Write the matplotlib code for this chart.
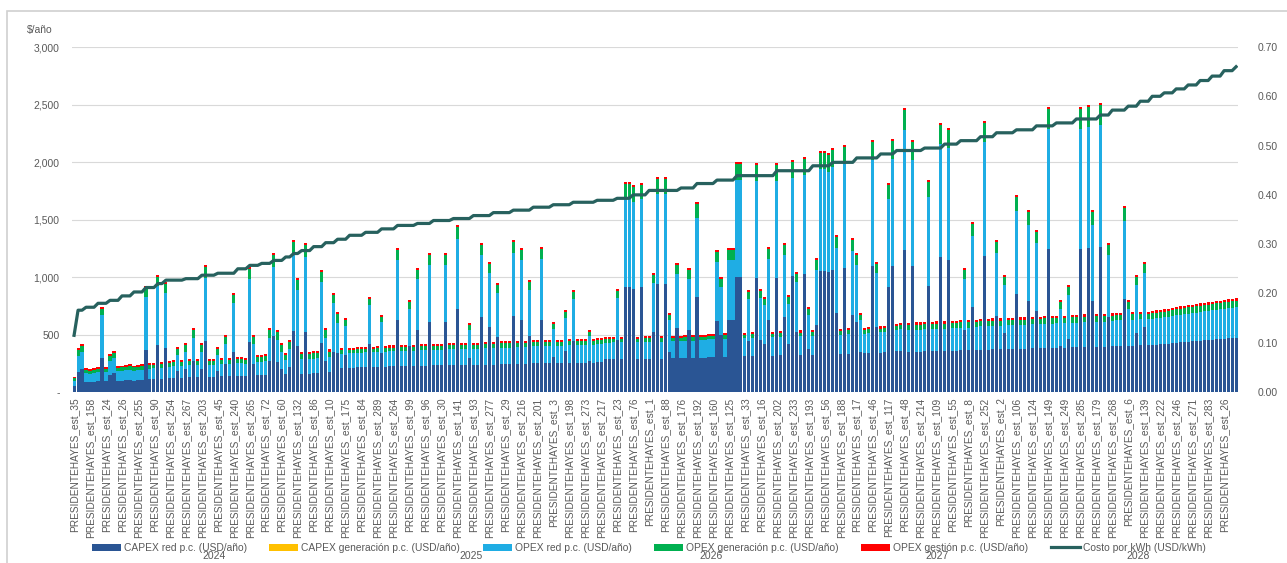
import numpy as np
import matplotlib.pyplot as plt
from matplotlib.patches import Rectangle, Patch
from matplotlib.lines import Line2D
from matplotlib import transforms

plt.rcParams['font.family'] = ['Liberation Sans', 'DejaVu Sans']

# =====================
# Datos
# =====================

capex_red = [
    55, 175, 200, 90, 85, 90, 92, 296, 92, 150, 165, 97, 100, 102, 105, 100, 102, 105, 368, 110,
    112, 408, 115, 384, 120, 122, 180, 125, 202, 128, 270, 130, 202, 442, 130, 128, 180, 135, 240, 135,
    344, 138, 138, 135, 436, 240, 145, 145, 150, 270, 484, 260, 202, 155, 215, 528, 396, 160, 520, 160,
    163, 165, 424, 270, 170, 344, 340,
    209, 320, 212, 212, 215, 215, 217, 415, 217, 220, 335, 220, 223, 223, 625, 226, 226, 400, 226, 540,
    228, 228, 605, 231, 231, 231, 605, 234, 234, 725, 234, 237, 300, 237, 237, 650, 239, 565, 239, 475,
    242, 242, 242, 660, 245, 625, 245, 488, 248, 248, 630, 248, 250, 305, 250, 250, 355, 253, 445, 253,
    253, 256, 270, 256, 259, 259,
    285, 285, 288, 450, 288, 915, 915, 900, 288, 910, 291, 291, 518, 935, 291, 935, 345, 294, 560, 294,
    297, 540, 297, 825, 300, 300, 303, 303, 618, 500, 306, 625, 625, 1000, 1000, 309, 445, 312, 995, 450,
    415, 630, 315, 995, 318, 650, 420, 1010, 523, 321, 1023, 370, 324, 583, 1050, 1050, 1040, 1060, 683, 330,
    1075, 333, 670, 605, 345, 336, 339, 1095, 565, 342, 345, 910, 1100, 354, 360,
    1235, 348, 1095, 351, 351, 354, 920, 354, 357, 1170, 357, 1150, 360, 360, 363, 540, 363, 740, 365, 368,
    1180, 368, 371, 660, 371, 510, 374, 374, 855, 377, 377, 790, 380, 705, 380, 383, 1240, 383, 386, 400,
    386, 465, 389, 389, 1240, 392, 1250, 790, 394, 1258, 394, 650, 397, 400, 400, 810, 400, 403, 510, 406,
    565, 406, 409, 412, 415, 418, 421, 423, 429, 432, 435, 438, 441, 444, 447, 450, 452, 455, 458, 461,
    464, 467, 470, 473,
]

capex_gen = [
    0, 0, 0, 0, 0, 0, 0, 0, 0, 0, 0, 0, 0, 0, 0, 0, 0, 0, 0, 0,
    0, 0, 0, 0, 0, 0, 0, 0, 0, 0, 0, 0, 0, 0, 0, 0, 0, 0, 0, 0,
    0, 0, 0, 0, 0, 0, 0, 0, 0, 0, 0, 0, 0, 0, 0, 0, 0, 0, 0, 0,
    0, 0, 0, 0, 0, 0, 0,
    0, 0, 0, 0, 0, 0, 0, 0, 0, 0, 0, 0, 0, 0, 0, 0, 0, 0, 0, 0,
    0, 0, 0, 0, 0, 0, 0, 0, 0, 0, 0, 0, 0, 0, 0, 0, 0, 0, 0, 0,
    0, 0, 0, 0, 0, 0, 0, 0, 0, 0, 0, 0, 0, 0, 0, 0, 0, 0, 0, 0,
    0, 0, 0, 0, 0, 0,
    0, 0, 0, 0, 0, 0, 0, 0, 0, 0, 0, 0, 0, 0, 0, 0, 0, 0, 0, 0,
    0, 0, 0, 0, 0, 0, 0, 0, 0, 0, 0, 0, 0, 0, 0, 0, 0, 0, 0, 0,
    0, 0, 0, 0, 0, 0, 0, 0, 0, 0, 0, 0, 0, 0, 0, 0, 0, 0, 0, 0,
    0, 0, 0, 0, 0, 0, 0, 0, 0, 0, 0, 0, 0, 0, 0,
    0, 0, 0, 0, 0, 0, 0, 0, 0, 0, 0, 0, 0, 0, 0, 0, 0, 0, 0, 0,
    0, 0, 0, 0, 0, 0, 0, 0, 0, 0, 0, 0, 0, 0, 0, 0, 0, 0, 0, 0,
    0, 0, 0, 0, 0, 0, 0, 0, 0, 0, 0, 0, 0, 0, 0, 0, 0, 0, 0, 0,
    0, 0, 0, 0, 0, 0, 0, 0, 0, 0, 0, 0, 0, 0, 0, 0, 0, 0, 0, 0,
    0, 0, 0, 0,
]

opex_red = [
    45, 135, 145, 78, 75, 78, 80, 370, 80, 118, 128, 83, 85, 87, 88, 85, 87, 88, 460, 92,
    94, 510, 95, 480, 98, 100, 138, 102, 148, 103, 203, 105, 148, 552, 105, 103, 138, 108, 180, 108,
    430, 110, 110, 108, 545, 180, 115, 115, 118, 203, 605, 195, 148, 122, 157, 660, 495, 125, 650, 125,
    126, 128, 530, 203, 132, 430, 260,
    123, 257, 124, 124, 126, 126, 128, 339, 128, 130, 270, 130, 132, 132, 519, 133, 133, 326, 133, 446,
    136, 136, 502, 137, 137, 137, 502, 139, 139, 605, 139, 141, 240, 141, 141, 541, 143, 468, 143, 390,
    145, 145, 145, 550, 146, 519, 146, 401, 148, 148, 524, 148, 151, 244, 151, 151, 287, 152, 365, 152,
    152, 154, 214, 154, 155, 155,
    143, 143, 145, 369, 145, 769, 769, 756, 145, 765, 147, 147, 427, 786, 147, 786, 279, 149, 464, 149,
    150, 446, 150, 691, 152, 152, 154, 154, 513, 412, 155, 519, 519, 842, 842, 157, 365, 159, 838, 369,
    339, 524, 160, 838, 162, 541, 343, 851, 431, 164, 861, 300, 166, 482, 885, 885, 876, 894, 568, 169,
    906, 171, 558, 502, 279, 172, 174, 924, 468, 176, 177, 765, 928, 183, 186,
    1044, 190, 924, 192, 192, 193, 773, 193, 195, 988, 195, 971, 197, 197, 198, 446, 198, 618, 201, 203,
    997, 203, 204, 550, 204, 421, 206, 206, 717, 207, 207, 661, 209, 588, 209, 211, 1048, 211, 212, 326,
    212, 382, 214, 214, 1048, 216, 1057, 661, 218, 1063, 218, 541, 220, 222, 222, 679, 326, 223, 421, 225,
    468, 225, 227, 228, 230, 232, 233, 236, 239, 241, 242, 244, 246, 247, 249, 251, 253, 255, 257, 258,
    260, 262, 263, 265,
]

opex_gen = [
    18, 52, 57, 27, 25, 27, 28, 56, 28, 44, 49, 29, 29, 30, 31, 29, 30, 31, 74, 32,
    33, 84, 34, 78, 35, 36, 54, 36, 57, 37, 69, 38, 57, 93, 38, 37, 54, 39, 62, 39,
    68, 39, 39, 39, 91, 62, 42, 42, 44, 69, 103, 67, 57, 45, 60, 114, 81, 47, 112, 47,
    48, 49, 88, 69, 50, 68, 82,
    30, 45, 31, 31, 31, 31, 32, 58, 32, 32, 47, 32, 32, 32, 88, 33, 33, 56, 33, 76,
    33, 33, 85, 34, 34, 34, 85, 34, 34, 102, 34, 34, 42, 34, 34, 91, 35, 79, 35, 67,
    35, 35, 35, 92, 36, 88, 36, 68, 36, 36, 88, 36, 36, 43, 36, 36, 50, 37, 62, 37,
    37, 37, 38, 37, 38, 38,
    29, 29, 29, 63, 29, 128, 128, 126, 29, 127, 29, 29, 72, 131, 29, 131, 48, 29, 78, 29,
    30, 76, 30, 116, 30, 30, 30, 30, 86, 70, 31, 88, 88, 140, 140, 31, 62, 31, 139, 63,
    58, 88, 32, 139, 32, 91, 59, 141, 73, 32, 143, 52, 32, 82, 147, 147, 146, 148, 96, 33,
    151, 33, 94, 85, 48, 34, 34, 153, 79, 34, 35, 127, 154, 35, 36,
    173, 42, 153, 42, 42, 43, 129, 43, 43, 164, 43, 161, 43, 43, 44, 76, 44, 104, 44, 44,
    165, 44, 45, 92, 45, 71, 45, 45, 120, 46, 46, 111, 46, 99, 46, 46, 174, 46, 47, 56,
    47, 65, 47, 47, 174, 47, 175, 111, 48, 176, 48, 91, 48, 48, 48, 113, 56, 49, 71, 49,
    79, 49, 49, 50, 50, 50, 51, 51, 52, 52, 53, 53, 53, 54, 54, 54, 55, 55, 55, 56,
    56, 56, 57, 57,
]

opex_otro = [
    12, 18, 18, 15, 15, 15, 15, 18, 15, 18, 18, 16, 16, 16, 16, 16, 16, 16, 18, 16,
    16, 18, 16, 18, 17, 17, 18, 17, 18, 17, 18, 17, 18, 18, 17, 17, 18, 18, 18, 18,
    18, 18, 18, 18, 18, 18, 18, 18, 18, 18, 18, 18, 18, 18, 18, 18, 18, 18, 18, 18,
    18, 18, 18, 18, 18, 18, 18,
    18, 18, 18, 18, 18, 18, 18, 18, 18, 18, 18, 18, 18, 18, 18, 18, 18, 18, 18, 18,
    18, 18, 18, 18, 18, 18, 18, 18, 18, 18, 18, 18, 18, 18, 18, 18, 18, 18, 18, 18,
    18, 18, 18, 18, 18, 18, 18, 18, 18, 18, 18, 18, 18, 18, 18, 18, 18, 18, 18, 18,
    18, 18, 18, 18, 18, 18,
    18, 18, 18, 18, 18, 18, 18, 18, 18, 18, 18, 18, 18, 18, 18, 18, 18, 18, 18, 18,
    18, 18, 18, 18, 18, 18, 18, 18, 18, 18, 18, 18, 18, 18, 18, 18, 18, 18, 18, 18,
    18, 18, 18, 18, 18, 18, 18, 18, 18, 18, 18, 18, 18, 18, 18, 18, 18, 18, 18, 18,
    18, 18, 18, 18, 18, 18, 18, 18, 18, 18, 18, 18, 18, 18, 18,
    18, 20, 18, 20, 20, 20, 18, 20, 20, 18, 20, 18, 20, 20, 20, 18, 20, 18, 20, 20,
    18, 20, 20, 18, 20, 18, 20, 20, 18, 20, 20, 18, 20, 18, 20, 20, 18, 20, 20, 18,
    20, 18, 20, 20, 18, 20, 18, 18, 20, 18, 20, 18, 20, 20, 20, 18, 18, 20, 18, 20,
    18, 20, 20, 20, 20, 20, 20, 20, 20, 20, 20, 20, 20, 20, 20, 20, 20, 20, 20, 20,
    20, 20, 20, 20,
]

costo_kwh = [
    0.115, 0.166, 0.166, 0.172, 0.172, 0.172, 0.180, 0.180, 0.180, 0.186, 0.186, 0.186,
    0.195, 0.195, 0.195, 0.203, 0.203, 0.203, 0.212, 0.212, 0.212, 0.220, 0.220,
    0.227, 0.227, 0.227, 0.227, 0.227, 0.230, 0.230, 0.230, 0.230, 0.237, 0.237, 0.237, 0.237,
    0.241, 0.241, 0.241, 0.241, 0.241, 0.250, 0.250, 0.250, 0.257, 0.257, 0.257,
    0.261, 0.261, 0.261, 0.267, 0.267, 0.267, 0.274, 0.274, 0.281, 0.281,
    0.287, 0.287, 0.287, 0.295, 0.295, 0.295, 0.303, 0.303, 0.303, 0.310, 0.310, 0.310,
    0.318, 0.318, 0.318, 0.318, 0.324, 0.324, 0.324, 0.324, 0.331, 0.331, 0.331, 0.331,
    0.338, 0.338, 0.338, 0.338, 0.338, 0.342, 0.342, 0.342, 0.342,
    0.348, 0.348, 0.348, 0.348, 0.348, 0.352, 0.352, 0.352, 0.352, 0.352,
    0.358, 0.358, 0.358, 0.358, 0.358, 0.364, 0.364, 0.364, 0.364, 0.364,
    0.369, 0.369, 0.369, 0.369, 0.369, 0.375, 0.375, 0.375, 0.375, 0.375,
    0.380, 0.380, 0.380, 0.380, 0.380, 0.385, 0.385, 0.385, 0.385, 0.385, 0.385,
    0.389, 0.389, 0.389, 0.389, 0.389, 0.393, 0.393, 0.393, 0.393, 0.400, 0.400, 0.400, 0.400,
    0.409, 0.409, 0.409, 0.409, 0.409, 0.409, 0.409, 0.409, 0.414, 0.414, 0.414, 0.414,
    0.423, 0.423, 0.423, 0.423, 0.423, 0.430, 0.430, 0.430, 0.430, 0.430,
    0.439, 0.439, 0.439, 0.439, 0.439, 0.439, 0.439, 0.439, 0.439, 0.439,
    0.449, 0.449, 0.449, 0.449, 0.449, 0.449, 0.449, 0.449, 0.449,
    0.459, 0.459, 0.459, 0.459, 0.459, 0.466, 0.466, 0.466, 0.466, 0.466, 0.466,
    0.475, 0.475, 0.475, 0.475, 0.475, 0.475, 0.483, 0.483, 0.483, 0.483,
    0.490, 0.490, 0.490, 0.490, 0.490, 0.490, 0.490, 0.495, 0.495, 0.495, 0.495, 0.495,
    0.503, 0.503, 0.503, 0.503, 0.510, 0.510, 0.510, 0.510, 0.510, 0.518, 0.518, 0.518, 0.518,
    0.526, 0.526, 0.526, 0.526, 0.526, 0.532, 0.532, 0.532, 0.532, 0.532,
    0.540, 0.540, 0.540, 0.540, 0.540, 0.546, 0.546, 0.546, 0.546, 0.546,
    0.554, 0.554, 0.554, 0.554, 0.554, 0.554, 0.562, 0.562, 0.562, 0.572, 0.572, 0.572, 0.572,
    0.580, 0.580, 0.580, 0.590, 0.590, 0.590, 0.600, 0.600, 0.600, 0.607, 0.607, 0.607,
    0.615, 0.615, 0.615, 0.623, 0.623, 0.623, 0.632, 0.632, 0.632, 0.641, 0.641, 0.641,
    0.652, 0.652, 0.652, 0.660,
]

# Estaciones mostradas en el eje (una de cada cuatro barras)
etiquetas_est = [
    35, 158, 24, 26, 255, 90, 254, 267, 203, 45,
    240, 265, 72, 60, 132, 86, 10, 175, 84, 289,
    264, 99, 96, 30, 141, 93, 277, 29, 216, 201,
    3, 198, 273, 217, 23, 76, 1, 88, 176, 192,
    160, 125, 33, 16, 202, 233, 193, 56, 188, 17,
    46, 117, 48, 214, 109, 55, 8, 252, 2, 106,
    124, 149, 249, 285, 179, 268, 6, 139, 222, 246,
    271, 283, 26,
]

# Años (grupos de barras: primera y última barra)
anios = ['2024', '2025', '2026', '2027', '2028']
anio_inicio = [0, 71, 129, 191, 242]
anio_fin = [70, 128, 190, 241, 291]

nombres_series = [
    'CAPEX red p.c. (USD/año)',
    'CAPEX generación p.c. (USD/año)',
    'OPEX red p.c. (USD/año)',
    'OPEX generación p.c. (USD/año)',
    'OPEX gestión p.c. (USD/año)',
]
nombre_linea = 'Costo por kWh (USD/kWh)'
colores = ['#2A5594', '#FFC000', '#1FADE4', '#00B050', '#FF0000']
color_linea = '#27615E'
gris = '#595959'

# =====================
# Figura
# =====================
series = [capex_red, capex_gen, opex_red, opex_gen, opex_otro]
n_barras = len(capex_red)
x = np.arange(n_barras)

fig = plt.figure(figsize=(12.87, 5.63), dpi=100)
ax = fig.add_axes([0.056, 0.3037, 0.906, 0.6128])

base = np.zeros(n_barras)
for vals, col in zip(series, colores):
    vals = np.array(vals, dtype=float)
    ax.bar(x, vals, bottom=base, width=0.78, color=col, linewidth=0)
    base += vals

ax.set_xlim(-0.5, n_barras - 0.5)
ax.set_ylim(0, 3000)
ax.set_yticks(np.arange(0, 3001, 500))
ax.set_yticklabels(['-' if v == 0 else f'{v:,}' for v in range(0, 3001, 500)])
ax.grid(axis='y', color='#D9D9D9', linewidth=0.8)
ax.set_axisbelow(True)
for s in ax.spines.values():
    s.set_visible(False)
ax.tick_params(axis='y', length=0, pad=9, labelsize=7.5, labelcolor=gris)

pos_ticks = x[::4]
ax.set_xticks(pos_ticks)
ax.set_xticklabels([f'PRESIDENTEHAYES_est_{n}' for n in etiquetas_est],
                   rotation=90, fontsize=7.3, color=gris)
ax.tick_params(axis='x', length=0, pad=4)

ax2 = ax.twinx()
ax2.plot(x, costo_kwh, color=color_linea, linewidth=2.3)
ax2.set_ylim(0, 0.70)
ax2.set_yticks(np.arange(0, 0.71, 0.10))
ax2.set_yticklabels([f'{v:.2f}' for v in np.arange(0, 0.71, 0.10)])
for s in ax2.spines.values():
    s.set_visible(False)
ax2.tick_params(axis='y', length=0, pad=14, labelsize=7.5, labelcolor=gris)

# Años bajo las etiquetas
trans = transforms.blended_transform_factory(ax.transData, fig.transFigure)
for anio, a, b in zip(anios, anio_inicio, anio_fin):
    ax.text((a + b) / 2, 0.012, anio, transform=trans, ha='center', va='center',
            fontsize=7.5, color=gris)

fig.text(0.021, 0.947, '$/año', fontsize=7.5, color=gris, va='center')

# Leyenda
handles = [Patch(facecolor=c, edgecolor='none') for c in colores]
handles.append(Line2D([0], [0], color=color_linea, linewidth=2.3))
fig.legend(handles, nombres_series + [nombre_linea], loc='center',
           bbox_to_anchor=(0.504, 0.027), ncol=6, frameon=False, fontsize=7.4,
           handlelength=2.8, handleheight=0.7, handletextpad=0.3,
           columnspacing=2.2, labelcolor=gris)

# Marco exterior
fig.add_artist(Rectangle((0.0055, -0.1), 1.2, 1.0805, transform=fig.transFigure,
                         fill=False, edgecolor='#D0D0D0', linewidth=1.2))

fig.savefig('out.png', dpi=100)
